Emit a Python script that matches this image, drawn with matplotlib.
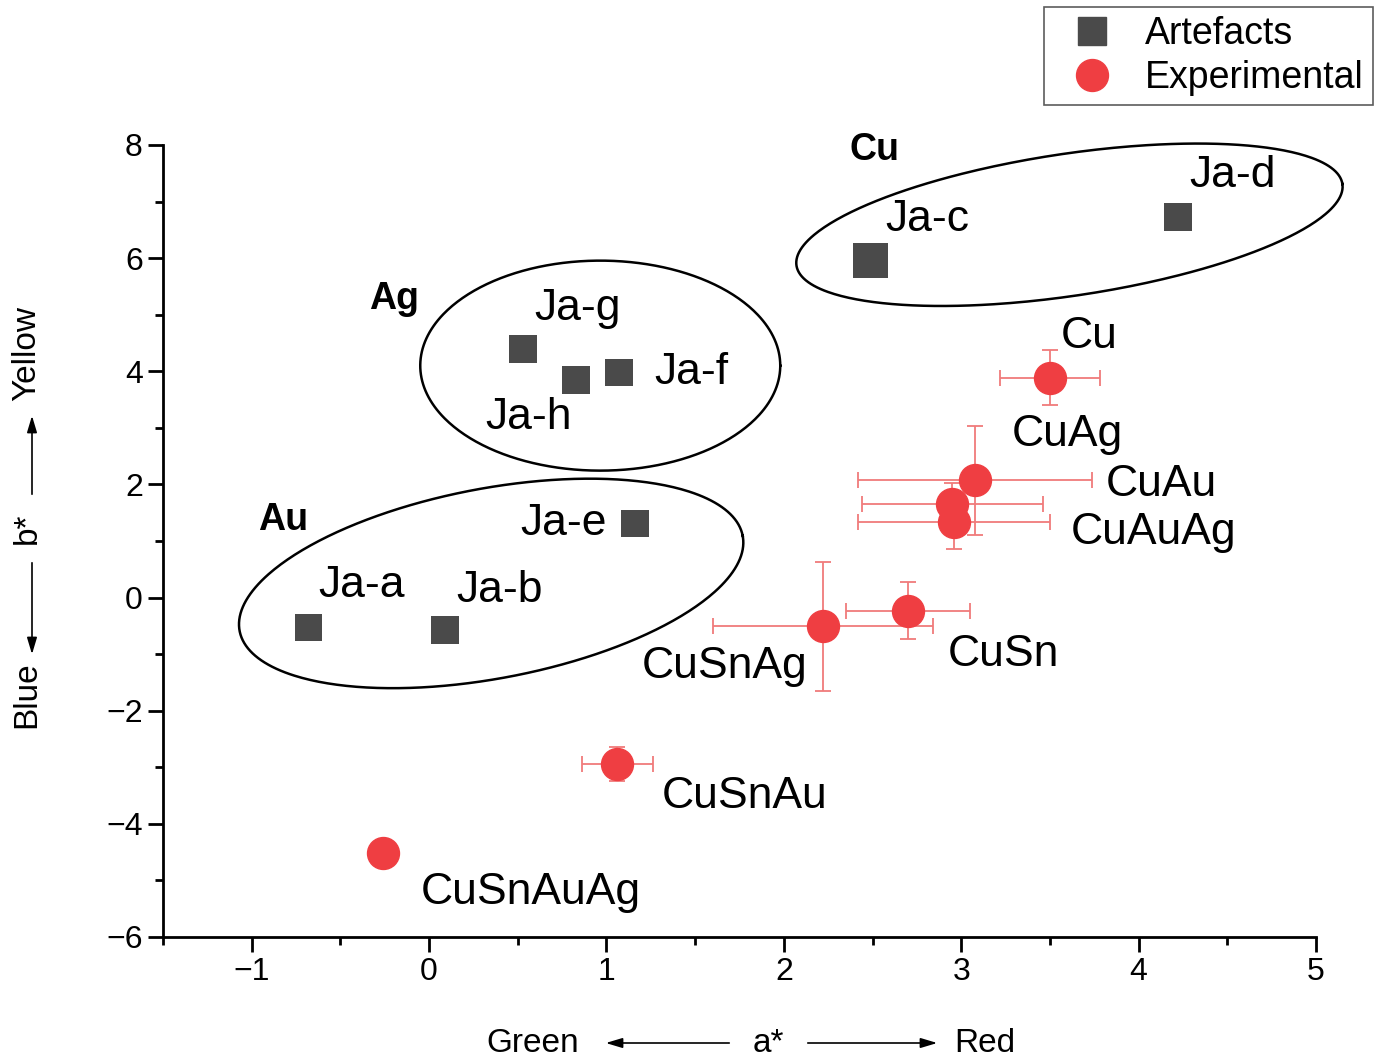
import numpy as np
import matplotlib
matplotlib.use("Agg")
import matplotlib.pyplot as plt

plt.rcParams['font.family'] = ['Liberation Sans', 'DejaVu Sans']

# artefacts (squares)
art_names = ["Ja-a", "Ja-b", "Ja-e", "Ja-g", "Ja-h", "Ja-f", "Ja-c", "Ja-d"]
art_a = [-0.68, 0.09, 1.16, 0.53, 0.83, 1.07, 2.49, 4.22]
art_b = [-0.53, -0.58, 1.31, 4.40, 3.85, 3.98, 5.96, 6.73]

# experimental alloys (circles with error bars)
exp_names = ["Cu", "CuAg", "CuAu", "CuAuAg", "CuSn", "CuSnAg", "CuSnAu", "CuSnAuAg"]
exp_a = [3.50, 3.08, 2.95, 2.96, 2.70, 2.22, 1.06, -0.26]
exp_b = [3.89, 2.07, 1.66, 1.33, -0.23, -0.51, -2.95, -4.51]
exp_a_err = [0.28, 0.66, 0.51, 0.54, 0.35, 0.62, 0.20, 0.07]
exp_b_err = [0.49, 0.97, 0.37, 0.48, 0.51, 1.14, 0.30, 0.05]

# label positions (data coords)
art_lab = {"Ja-a": (-0.38, 0.22), "Ja-b": (0.40, 0.12), "Ja-e": (0.76, 1.31),
           "Ja-g": (0.835, 5.11), "Ja-h": (0.56, 3.18), "Ja-f": (1.48, 3.98),
           "Ja-c": (2.81, 6.68), "Ja-d": (4.53, 7.46)}
exp_lab = {"Cu": (3.72, 4.62), "CuAg": (3.60, 2.88), "CuAu": (4.13, 2.0),
           "CuAuAg": (4.085, 1.15), "CuSn": (3.24, -1.0), "CuSnAg": (1.665, -1.22),
           "CuSnAu": (1.78, -3.52), "CuSnAuAg": (0.575, -5.21)}
group_names = ["Cu", "Ag", "Au"]
group_pos = [(2.51, 7.92), (-0.20, 5.28), (-0.82, 1.38)]

# group ellipses: centre (data), semi-axes (px), tilt (deg)
ell_center = [(3.61, 6.59), (0.965, 4.10), (0.35, 0.25)]
ell_axes = [(276, 71), (180, 105), (256, 95)]
ell_angle = [8.5, 0, 10.7]

W, H = 1380, 1057
fig = plt.figure(figsize=(W / 100, H / 100), dpi=100)
ax = fig.add_axes([163 / W, (H - 937) / H, (1316 - 163) / W, (937 - 145) / H])

xmin, xmax, ymin, ymax = -1.5, 5, -6, 8
ax.set_xlim(xmin, xmax)
ax.set_ylim(ymin, ymax)

sx = (1316 - 163) / (xmax - xmin)
sy = (937 - 145) / (ymax - ymin)

t = np.linspace(0, 2 * np.pi, 400)
for (cx, cy), (a, b), ang in zip(ell_center, ell_axes, ell_angle):
    th = np.deg2rad(ang)
    px = a * np.cos(t) * np.cos(th) - b * np.sin(t) * np.sin(th)
    py = a * np.cos(t) * np.sin(th) + b * np.sin(t) * np.cos(th)
    ax.plot(cx + px / sx, cy + py / sy, color='black', lw=1.8, zorder=2, clip_on=False)

red = '#ef3e42'
grey = '#4a4a4a'
ax.errorbar(exp_a, exp_b, xerr=exp_a_err, yerr=exp_b_err, fmt='none',
            ecolor='#f07b7b', elinewidth=1.3, capsize=6, capthick=1.3, zorder=3)
ax.plot(exp_a, exp_b, 'o', color=red, ms=23, mec=red, zorder=4, label='Experimental')
# Ja-c is drawn with a bigger marker in the original
art_ms = [25 if n == "Ja-c" else 20 for n in art_names]
ax.scatter(art_a, art_b, s=np.array(art_ms) ** 2, marker='s', color=grey,
           linewidths=0, zorder=4)
ax.plot([], [], 's', color=grey, ms=20, label='Artefacts')

for name, (x, y) in art_lab.items():
    ax.text(x, y, name, fontsize=32, ha='center', va='center')
for name, (x, y) in exp_lab.items():
    ax.text(x, y, name, fontsize=32, ha='center', va='center')
for name, (x, y) in zip(group_names, group_pos):
    ax.text(x, y, name, fontsize=27, fontweight='bold', ha='center', va='center')

ax.spines['top'].set_visible(False)
ax.spines['right'].set_visible(False)
for s in ['left', 'bottom']:
    ax.spines[s].set_linewidth(2)
ax.set_xticks(np.arange(-1, 6, 1))
ax.set_xticks(np.arange(-1.5, 5.01, 0.5), minor=True)
ax.set_yticks(np.arange(-6, 9, 2))
ax.set_yticks(np.arange(-5, 8, 2), minor=True)
ax.set_xticklabels(['\u22121', '0', '1', '2', '3', '4', '5'])
ax.set_yticklabels(['\u22126', '\u22124', '\u22122', '0', '2', '4', '6', '8'])
ax.tick_params(which='major', length=11, width=2, labelsize=23, direction='out')
ax.tick_params(which='minor', length=6, width=2, direction='out')

handles, labels = ax.get_legend_handles_labels()
leg = fig.legend(handles[::-1], labels[::-1], loc='upper right',
                 bbox_to_anchor=(1373 / W, 1 - 7 / H), fontsize=27, frameon=True,
                 fancybox=False, edgecolor='#333333', markerscale=1.0,
                 handlelength=2.1, handletextpad=0.35, borderpad=0.25,
                 labelspacing=0.2, borderaxespad=0)
leg.get_frame().set_linewidth(1.2)

# axis labels with arrows
def fxy(x, y):
    return (x / W, 1 - y / H)

yl = 1043
fig.text(*fxy(533, yl), 'Green', fontsize=24, ha='center', va='center')
fig.text(*fxy(768, yl), 'a*', fontsize=24, ha='center', va='center')
fig.text(*fxy(985, yl), 'Red', fontsize=24, ha='center', va='center')
arr = dict(arrowstyle='-|>,head_length=1.0,head_width=0.3', color='black', lw=1.2)
ax.annotate('', xy=fxy(603, yl), xytext=fxy(732, yl), xycoords='figure fraction',
            textcoords='figure fraction', arrowprops=arr, annotation_clip=False)
ax.annotate('', xy=fxy(940, yl), xytext=fxy(805, yl), xycoords='figure fraction',
            textcoords='figure fraction', arrowprops=arr, annotation_clip=False)

xl = 27
fig.text(*fxy(xl, 695), 'Blue', fontsize=24, ha='center', va='center', rotation=90)
fig.text(*fxy(xl, 528), 'b*', fontsize=24, ha='center', va='center', rotation=90)
fig.text(*fxy(xl, 353), 'Yellow', fontsize=24, ha='center', va='center', rotation=90)
ax.annotate('', xy=fxy(xl + 5, 413), xytext=fxy(xl + 5, 497), xycoords='figure fraction',
            textcoords='figure fraction', arrowprops=arr, annotation_clip=False)
ax.annotate('', xy=fxy(xl + 5, 657), xytext=fxy(xl + 5, 560), xycoords='figure fraction',
            textcoords='figure fraction', arrowprops=arr, annotation_clip=False)

fig.savefig('out.png', dpi=100)
